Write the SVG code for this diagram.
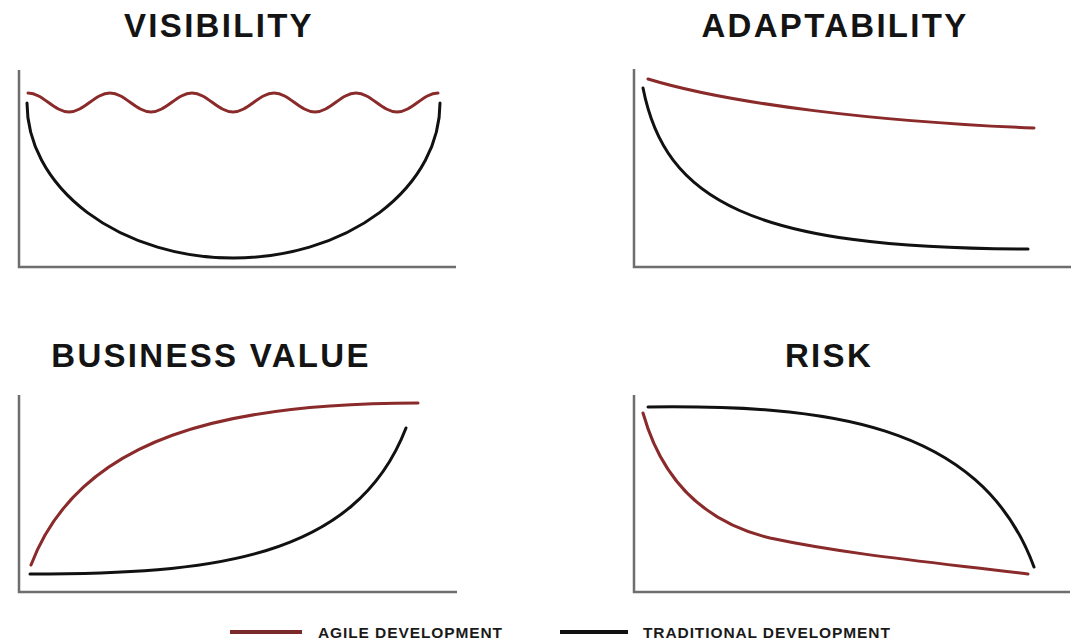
<svg xmlns="http://www.w3.org/2000/svg" width="1088" height="640" viewBox="0 0 1088 640">
<style>
.title{font-family:"Liberation Sans",Arial,Helvetica,sans-serif;font-weight:bold;font-size:33px;letter-spacing:2.3px;fill:#141414;text-anchor:middle}
.leg{font-family:"Liberation Sans",Arial,Helvetica,sans-serif;font-weight:bold;font-size:15.5px;letter-spacing:0.9px;fill:#1a1a1a}
.axis{fill:none;stroke:#6e6e6e;stroke-width:2.5}
.agile{fill:none;stroke:#8a2a2a;stroke-width:3;stroke-linecap:round}
.trad{fill:none;stroke:#111;stroke-width:3;stroke-linecap:round}
</style>
<rect width="1088" height="640" fill="#fff"/>
<g id="visibility">
<text class="title" x="219" y="37">VISIBILITY</text>
<path class="axis" d="M19,70 V267 H456"/>
<path class="agile" d="M28,93 C43,93 54,112 69,112 C84,112 95,93 110,93 C125,93 136,112 151,112 C166,112 177,93 192,93 C207,93 218,112 233,112 C248,112 259,93 274,93 C289,93 300,112 315,112 C330,112 341,93 356,93 C371,93 382,112 397,112 C412,112 423,93 438,93"/>
<path class="trad" d="M27,103 A206.5,155 0 0 0 440,103"/>
</g>
<g id="adaptability">
<text class="title" x="835" y="37">ADAPTABILITY</text>
<path class="axis" d="M634,69 V267 H1071"/>
<path class="agile" d="M648,79 C730,104 880,122 1034,128"/>
<path class="trad" d="M643,88 C665,200 750,249 1028,249"/>
</g>
<g id="business-value">
<text class="title" x="211" y="367">BUSINESS VALUE</text>
<path class="axis" d="M19,395 V592 H457"/>
<path class="agile" d="M31,565 C80,435 230,403 418,403"/>
<path class="trad" d="M30,574 C210,574 355,560 406,428"/>
</g>
<g id="risk">
<text class="title" x="829" y="367">RISK</text>
<path class="axis" d="M634,395 V592 H1070"/>
<path class="agile" d="M643,413 C659,470 695,520 770,538 C850,555 940,563 1028,574"/>
<path class="trad" d="M648,407 C820,405 980,420 1034,567"/>
</g>
<g id="legend">
<line x1="230" y1="632" x2="302" y2="632" stroke="#7a2a2a" stroke-width="4"/>
<text class="leg" x="318" y="638">AGILE DEVELOPMENT</text>
<line x1="560" y1="632" x2="628" y2="632" stroke="#111" stroke-width="4"/>
<text class="leg" x="643" y="638">TRADITIONAL DEVELOPMENT</text>
</g>
</svg>
